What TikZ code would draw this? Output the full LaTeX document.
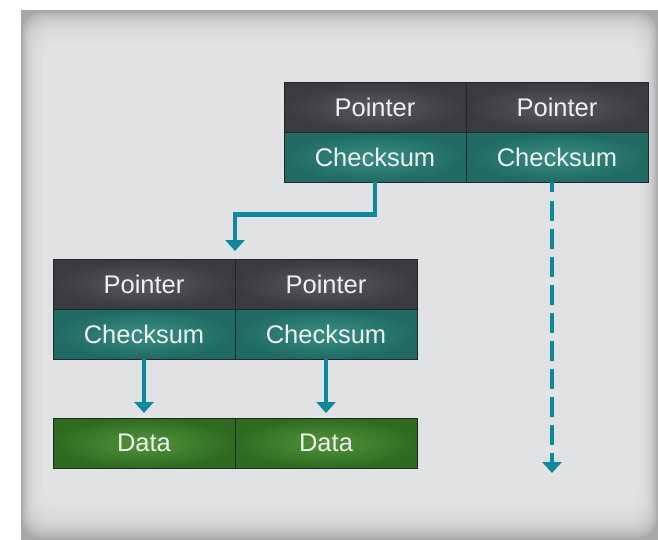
\documentclass[tikz,border=0pt]{standalone}
\usepackage{fontspec}
\setmainfont{Liberation Sans}
\usetikzlibrary{positioning,arrows.meta}

\definecolor{panelgray}{HTML}{E7E8EA}
\definecolor{paneledge}{HTML}{A8A8A8}
\definecolor{ptrlight}{HTML}{585A5E}
\definecolor{ptrdark}{HTML}{3A3B3E}
\definecolor{sumlight}{HTML}{378E84}
\definecolor{sumdark}{HTML}{1F6A62}
\definecolor{datalight}{HTML}{549439}
\definecolor{datadark}{HTML}{2D6B21}
\definecolor{linkteal}{HTML}{0A8A9C}

\begin{document}
\begin{tikzpicture}[
    x=1pt, y=-1pt,
    every node/.style={text=white!94!black, font=\fontsize{25.5}{30}\selectfont},
    cell/.style={draw=black!85, line width=1pt, minimum width=182pt,
                 minimum height=50pt, inner sep=0pt, outer sep=0pt},
    ptrcell/.style={cell, inner color=ptrlight, outer color=ptrdark},
    sumcell/.style={cell, inner color=sumlight, outer color=sumdark},
    datacell/.style={cell, inner color=datalight, outer color=datadark},
    link/.style={draw=linkteal, line width=4.8pt,
                 -{Triangle[width=19pt,length=11pt]}}
]

    \useasboundingbox (0,0) rectangle (658,540);

    % --- Panel ---
    \fill[paneledge] (21,10) rectangle (658,540);
    \foreach \i in {1,...,30}
        \fill[panelgray, opacity=0.15, rounded corners=20pt]
            (21+\i*1.2, 10+\i*1.8) rectangle (658-\i*1.1, 540-\i*2);

    % --- Top block ---
    \node[ptrcell] (ptrA) at (375,107.5) {Pointer};
    \node[ptrcell, right=0pt of ptrA] (ptrB) {Pointer};
    \node[sumcell, below=0pt of ptrA] (sumA) {Checksum};
    \node[sumcell, below=0pt of ptrB] (sumB) {Checksum};

    % --- Lower block ---
    \node[ptrcell] (ptrC) at (144,284) {Pointer};
    \node[ptrcell, right=0pt of ptrC] (ptrD) {Pointer};
    \node[sumcell, below=0pt of ptrC] (sumC) {Checksum};
    \node[sumcell, below=0pt of ptrD] (sumD) {Checksum};

    % --- Data ---
    \node[datacell, below=59pt of sumC] (dataA) {Data};
    \node[datacell, right=0pt of dataA] (dataB) {Data};

    % --- Links ---
    \draw[link, shorten >=8pt] (sumA.south) -- ++(0,32) -| (ptrC.north east);
    \draw[link, shorten >=5pt] (sumC.south) -- (dataA.north);
    \draw[link, shorten >=5pt] (sumD.south) -- (dataB.north);

    \coordinate (sink) at (552,473);
    \draw[link, dash pattern=on 20pt off 8pt, dash phase=10pt]
        (sumB.south -| sink) -- (sink);

\end{tikzpicture}
\end{document}
